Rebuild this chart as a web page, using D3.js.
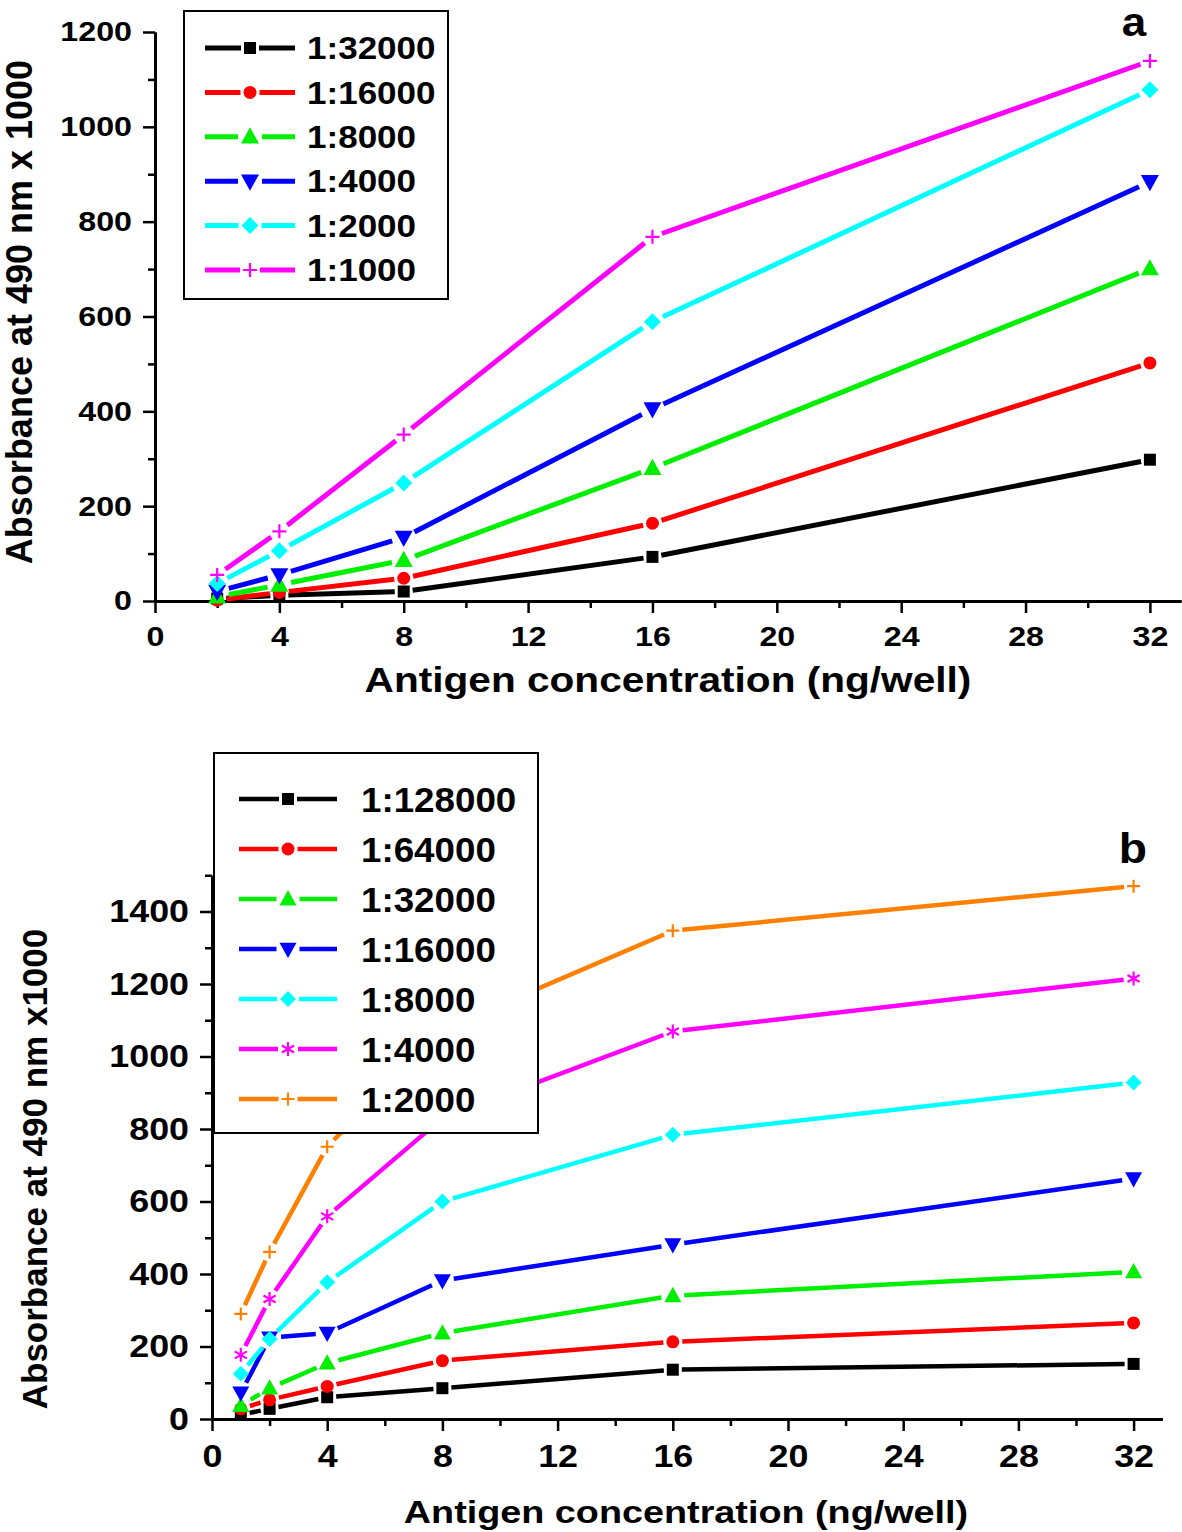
<!DOCTYPE html>
<html><head><meta charset="utf-8">
<script src="https://cdn.jsdelivr.net/npm/d3@7"></script>
<style>body{margin:0;background:#fff}</style>
</head><body><svg id="c" width="1182" height="1532"></svg>
<script>
// ---------- DATA ----------
// Panel a
const concA = [2, 4, 8, 16, 32];
const xTicksA = [0, 4, 8, 12, 16, 20, 24, 28, 32];
const yTicksA = [0, 200, 400, 600, 800, 1000, 1200];
const namesA = ["1:32000", "1:16000", "1:8000", "1:4000", "1:2000", "1:1000"];
const a_32000 = [5, 12, 20, 93, 298];
const a_16000 = [2, 18, 48, 164, 502];
const a_8000  = [9, 34, 86, 280, 701];
const a_4000  = [20, 55, 134, 405, 884];
const a_2000  = [37, 106, 249, 589, 1078];
const a_1000  = [55, 147, 351, 768, 1139];
// Panel b
const concB = [1, 2, 4, 8, 16, 32];
const xTicksB = [0, 4, 8, 12, 16, 20, 24, 28, 32];
const yTicksB = [0, 200, 400, 600, 800, 1000, 1200, 1400];
const namesB = ["1:128000", "1:64000", "1:32000", "1:16000", "1:8000", "1:4000", "1:2000"];
const b_128000 = [12, 28, 60, 85, 136, 152];
const b_64000  = [28, 53, 90, 161, 213, 265];
const b_32000  = [37, 85, 154, 237, 340, 406];
const b_16000  = [72, 224, 237, 382, 481, 663];
const b_8000   = [125, 221, 377, 600, 784, 928];
const b_4000   = [177, 331, 559, 830, 1069, 1215];
const b_2000   = [290, 461, 751, 1074, 1347, 1470];
const xTitle = "Antigen concentration (ng/well)";
const yTitleA = "Absorbance at 490 nm x 1000";
const yTitleB = "Absorbance at 490 nm x1000";

// ---------- STYLE ----------
const FONT = '"Liberation Sans", Arial, Helvetica, sans-serif';
const colorsA = ["#000000", "#ff0000", "#00ee00", "#0000ff", "#00ffff", "#ff00ff"];
const markersA = ["square", "circle", "triUp", "triDown", "diamond", "plus"];
const colorsB = ["#000000", "#ff0000", "#00ee00", "#0000ff", "#00ffff", "#ff00ff", "#ff8000"];
const markersB = ["square", "circle", "triUp", "triDown", "diamond", "star", "plus"];

const svg = d3.select("#c");
svg.append("rect").attr("width", 1182).attr("height", 1532).attr("fill", "#fff");

function markerPath(type, s) {
  const h = s / 2;
  switch (type) {
    case "square": return `M${-h},${-h}H${h}V${h}H${-h}Z`;
    case "circle": return `M${h},0A${h},${h} 0 1,1 ${-h},0A${h},${h} 0 1,1 ${h},0Z`;
    case "triUp": return `M0,${-h*1.05}L${h},${h*0.75}L${-h},${h*0.75}Z`;
    case "triDown": return `M0,${h*1.05}L${h},${-h*0.75}L${-h},${-h*0.75}Z`;
    case "diamond": return `M0,${-h}L${h},0L0,${h}L${-h},0Z`;
    case "plus": return `M${-h},0H${h}M0,${-h}V${h}`;
    case "star": {
      const c = Math.cos(Math.PI/6)*h, sn = Math.sin(Math.PI/6)*h;
      return `M0,${-h}V${h}M${-c},${-sn}L${c},${sn}M${-c},${sn}L${c},${-sn}`;
    }
  }
}
const stroked = t => t === "plus" || t === "star";

function segPath(pts, gap) {
  let d = "";
  for (let i = 0; i < pts.length - 1; i++) {
    const [x0, y0] = pts[i], [x1, y1] = pts[i+1];
    const dx = x1 - x0, dy = y1 - y0, L = Math.hypot(dx, dy);
    if (L <= 2*gap + 1) continue;
    const ux = dx/L, uy = dy/L;
    d += `M${x0+ux*gap},${y0+uy*gap}L${x1-ux*gap},${y1-uy*gap}`;
  }
  return d;
}

function drawMarker(g, type, color, size, x, y) {
  const p = g.append("path").attr("transform", `translate(${x},${y})`).attr("d", markerPath(type, size));
  if (stroked(type)) p.attr("fill", "none").attr("stroke", color).attr("stroke-width", 2.2);
  else p.attr("fill", color);
}

const fmt = d3.format("d");

function panel(o) {
  const g = svg.append("g");
  const x = d3.scaleLinear().domain(o.xDomain).range(o.xRange);
  const y = d3.scaleLinear().domain(o.yDomain).range(o.yRange);
  const x0 = x(0), y0 = y(0);

  g.append("g").attr("transform", `translate(0,${y0})`)
    .call(d3.axisBottom(x).tickValues(o.xMinor).tickSize(7).tickFormat("").tickSizeOuter(0));
  g.append("g").attr("transform", `translate(${x0},0)`)
    .call(d3.axisLeft(y).tickValues(o.yMinor).tickSize(7).tickFormat("").tickSizeOuter(0));
  const ax = g.append("g").attr("transform", `translate(0,${y0})`)
    .call(d3.axisBottom(x).tickValues(o.xTicks).tickFormat(fmt).tickSize(12).tickPadding(o.xPad).tickSizeOuter(0));
  const ay = g.append("g").attr("transform", `translate(${x0},0)`)
    .call(d3.axisLeft(y).tickValues(o.yTicks).tickFormat(fmt).tickSize(12).tickPadding(11).tickSizeOuter(0));
  g.selectAll(".domain").attr("stroke", "#000").attr("stroke-width", 3);
  g.selectAll(".tick line").attr("stroke", "#000").attr("stroke-width", 2.5);
  [ax, ay].forEach(a => a.selectAll("text")
    .attr("font-size", o.tickFont).attr("font-family", FONT).attr("font-weight", "bold")
    .attr("fill", "#000").attr("data-st", o.tickSt));

  // series
  o.series.forEach(s => {
    const pts = o.xs.map((xv, i) => [x(xv), y(s.values[i])]);
    const gap = o.ms[s.marker] / 2 + 3;
    g.append("path").attr("d", segPath(pts, gap)).attr("fill", "none")
      .attr("stroke", s.color).attr("stroke-width", o.lw);
    pts.forEach(p => drawMarker(g, s.marker, s.color, o.ms[s.marker], p[0], p[1]));
  });

  // legend
  const L = o.legend;
  g.append("rect").attr("x", L.x).attr("y", L.y).attr("width", L.w).attr("height", L.h)
    .attr("fill", "#fff").attr("stroke", "#000").attr("stroke-width", 2);
  o.series.forEach((s, i) => {
    const ry = L.row0 + i * L.dy;
    const gap = o.ms[s.marker] / 2 + 3;
    g.append("path").attr("d", `M${L.lx0},${ry}L${L.lm-gap},${ry}M${L.lm+gap},${ry}L${L.lx1},${ry}`)
      .attr("stroke", s.color).attr("stroke-width", o.lw).attr("fill", "none");
    drawMarker(g, s.marker, s.color, o.ms[s.marker], L.lm, ry);
    g.append("text").attr("x", L.tx).attr("y", ry).attr("dy", "0.36em")
      .attr("font-size", L.font).attr("font-family", FONT).attr("font-weight", "bold")
      .attr("data-st", L.st).text(s.name);
  });

  // titles
  g.append("text").attr("x", o.xt.x).attr("y", o.xt.y).attr("text-anchor", "middle")
    .attr("font-size", o.xt.font).attr("font-family", FONT).attr("font-weight", "bold")
    .attr("data-st", o.xt.st).text(xTitle);
  g.append("text").attr("transform", `translate(${o.yt.x},${o.yt.y}) rotate(-90)`)
    .attr("text-anchor", "middle").attr("font-size", o.yt.font).attr("font-family", FONT)
    .attr("font-weight", "bold").text(o.yt.text);
  g.append("text").attr("x", o.lab.x).attr("y", o.lab.y).attr("text-anchor", "middle")
    .attr("font-size", o.lab.font).attr("font-family", FONT).attr("font-weight", "bold")
    .attr("data-st", 1.1).text(o.lab.text);
}

const valsA = [a_32000, a_16000, a_8000, a_4000, a_2000, a_1000];
panel({
  xDomain: [0, 33], xRange: [155, 1181],
  yDomain: [0, 1200], yRange: [601, 32],
  xTicks: xTicksA, xMinor: d3.range(2, 33, 4),
  yTicks: yTicksA, yMinor: d3.range(100, 1200, 200),
  xPad: 13, tickFont: 28, tickSt: 1.15, lw: 5,
  xs: concA,
  series: namesA.map((n, i) => ({name: n, values: valsA[i], color: colorsA[i], marker: markersA[i]})),
  ms: {square: 12, circle: 13, triUp: 18, triDown: 18, diamond: 17, plus: 14, star: 14},
  legend: {x: 184, y: 11, w: 264, h: 288, row0: 48, dy: 44.4, lx0: 205, lm: 250, lx1: 295, tx: 307, font: 31, st: 1.13},
  xt: {x: 668, y: 692, font: 35, st: 1.16},
  yt: {x: 32, y: 312, font: 36, text: yTitleA},
  lab: {x: 1134, y: 36, font: 40, text: "a"}
});

const valsB = [b_128000, b_64000, b_32000, b_16000, b_8000, b_4000, b_2000];
panel({
  xDomain: [0, 33], xRange: [212, 212 + 33 * 28.8],
  yDomain: [0, 1500], yRange: [1419, 1419 - 1500 * 0.3625],
  xTicks: xTicksB, xMinor: d3.range(2, 33, 4),
  yTicks: yTicksB, yMinor: d3.range(100, 1501, 200),
  xPad: 13, tickFont: 32, tickSt: 1.12, lw: 4.5,
  xs: concB,
  series: namesB.map((n, i) => ({name: n, values: valsB[i], color: colorsB[i], marker: markersB[i]})),
  ms: {square: 12, circle: 13, triUp: 17, triDown: 17, diamond: 16, plus: 13, star: 14},
  legend: {x: 214, y: 753, w: 324, h: 380, row0: 799, dy: 50, lx0: 239, lm: 288, lx1: 337, tx: 361, font: 35, st: 1.05},
  xt: {x: 686, y: 1523, font: 32, st: 1.18},
  yt: {x: 47, y: 1169, font: 35, text: yTitleB},
  lab: {x: 1133, y: 863, font: 42, text: "b"}
});

// horizontal stretch of text to match the reference's wide lettering
svg.selectAll("text[data-st]").each(function () {
  const k = +this.getAttribute("data-st");
  if (k && k !== 1) {
    const w = this.getComputedTextLength();
    this.setAttribute("textLength", w * k);
    this.setAttribute("lengthAdjust", "spacingAndGlyphs");
  }
});
</script></body></html>
